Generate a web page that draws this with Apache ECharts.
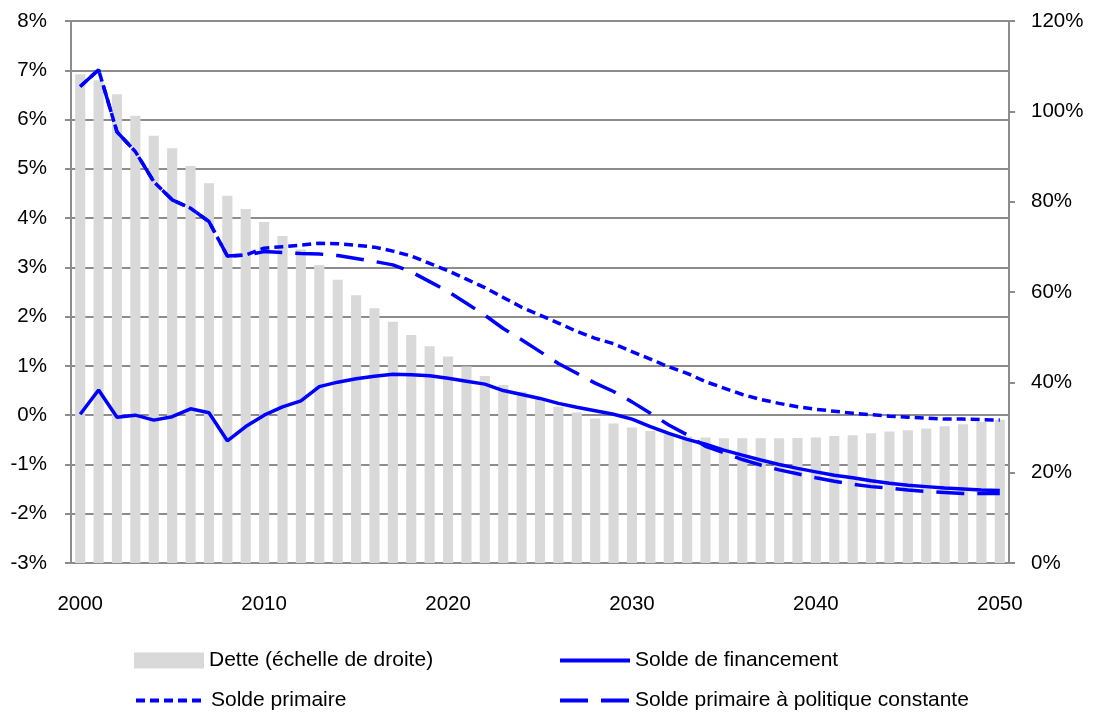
<!DOCTYPE html>
<html>
<head>
<meta charset="utf-8">
<script src="https://cdn.jsdelivr.net/npm/echarts@6/dist/echarts.min.js"></script>
<style>
html,body{margin:0;padding:0;background:#fff;}
#chart{width:1093px;height:715px;}
</style>
</head>
<body>
<div id="chart"></div>
<script>
const years = ['2000','2001','2002','2003','2004','2005','2006','2007','2008','2009',
 '2010','2011','2012','2013','2014','2015','2016','2017','2018','2019',
 '2020','2021','2022','2023','2024','2025','2026','2027','2028','2029',
 '2030','2031','2032','2033','2034','2035','2036','2037','2038','2039',
 '2040','2041','2042','2043','2044','2045','2046','2047','2048','2049','2050'];

// Dette (échelle de droite), % du PIB
const dette = [108.2,106.9,103.8,99.0,94.6,91.8,87.9,84.1,81.3,78.4,
 75.5,72.4,69.4,66.0,62.7,59.3,56.4,53.4,50.5,48.0,
 45.7,43.5,41.4,39.4,37.9,36.5,34.6,33.3,32.0,30.9,
 30.0,29.2,28.5,28.0,27.8,27.6,27.6,27.6,27.6,27.7,
 27.8,28.1,28.3,28.7,29.1,29.4,29.8,30.3,30.7,31.2,31.7];

// Solde de financement
const soldeFinancement = [0.02,0.51,-0.04,0.00,-0.10,-0.03,0.13,0.05,-0.52,-0.23,
 0.00,0.17,0.29,0.58,0.67,0.74,0.79,0.83,0.82,0.80,
 0.75,0.69,0.63,0.50,0.42,0.34,0.24,0.16,0.09,0.02,
 -0.08,-0.23,-0.37,-0.49,-0.59,-0.71,-0.81,-0.91,-1.00,-1.08,
 -1.15,-1.22,-1.27,-1.33,-1.38,-1.42,-1.45,-1.48,-1.50,-1.52,-1.53];

// Solde primaire
const soldePrimaire = [6.67,7.01,5.75,5.35,4.74,4.37,4.20,3.93,3.23,3.25,
 3.39,3.42,3.45,3.49,3.48,3.45,3.41,3.33,3.23,3.08,
 2.93,2.76,2.59,2.39,2.19,2.03,1.87,1.70,1.56,1.45,
 1.29,1.14,0.98,0.85,0.68,0.55,0.42,0.32,0.24,0.17,
 0.12,0.08,0.04,0.01,-0.02,-0.04,-0.06,-0.08,-0.08,-0.09,-0.10];

// Solde primaire à politique constante
const soldePolitiqueConstante = [6.67,7.01,5.75,5.35,4.74,4.37,4.20,3.93,3.23,3.25,
 3.32,3.30,3.28,3.27,3.24,3.18,3.12,3.05,2.91,2.71,
 2.51,2.27,2.03,1.76,1.53,1.29,1.05,0.85,0.65,0.48,
 0.27,0.04,-0.20,-0.40,-0.63,-0.76,-0.90,-1.01,-1.11,-1.19,
 -1.27,-1.34,-1.40,-1.45,-1.48,-1.52,-1.55,-1.57,-1.59,-1.59,-1.59];

const FONT = '"Liberation Sans", Arial, sans-serif';
const GRID_COLOR = '#8c8c8c';
const BLUE = '#0000ff';
const AXIS_FS = 20.5;
const LEG_FS = 21;

function legendAt(name, left, top, extra) {
  return Object.assign({
    orient: 'horizontal', left: left, top: top,
    itemWidth: 70, itemHeight: 16, padding: 0,
    selectedMode: false,
    textStyle: {fontFamily: FONT, fontSize: LEG_FS, color: '#000'},
    itemStyle: {opacity: 0},
    lineStyle: {width: 4},
    data: [name]
  }, extra || {});
}

const chart = echarts.init(document.getElementById('chart'), null, {renderer: 'canvas'});
chart.setOption({
  animation: false,
  backgroundColor: '#ffffff',
  textStyle: {fontFamily: FONT},
  grid: {left: 71, right: 84, top: 21, bottom: 152, containLabel: false},
  legend: [
    legendAt('Dette (échelle de droite)', 134, 650, {
      itemStyle: {opacity: 1},
      data: [{name: 'Dette (échelle de droite)', icon: 'rect'}]
    }),
    legendAt('Solde primaire', 134, 690),
    legendAt('Solde de financement', 558, 650),
    legendAt('Solde primaire à politique constante', 558, 690)
  ],
  xAxis: {
    type: 'category',
    data: years,
    boundaryGap: true,
    axisLine: {show: true, onZero: false, lineStyle: {color: GRID_COLOR, width: 2}},
    axisTick: {show: false},
    axisLabel: {
      interval: function (i) { return i % 10 === 0; },
      margin: 31, fontSize: AXIS_FS, color: '#000', fontFamily: FONT
    },
    splitLine: {show: false}
  },
  yAxis: [
    {
      type: 'value', min: -3, max: 8, interval: 1, position: 'left',
      axisLine: {show: true, lineStyle: {color: GRID_COLOR, width: 2}},
      axisTick: {show: true, inside: false, length: 6, lineStyle: {color: GRID_COLOR, width: 2}},
      axisLabel: {formatter: '{value}%', margin: 24, fontSize: AXIS_FS, color: '#000', fontFamily: FONT},
      splitLine: {show: true, lineStyle: {color: GRID_COLOR, width: 2}}
    },
    {
      type: 'value', min: 0, max: 120, interval: 20, position: 'right',
      axisLine: {show: true, lineStyle: {color: GRID_COLOR, width: 2}},
      axisTick: {show: true, inside: false, length: 6, lineStyle: {color: GRID_COLOR, width: 2}},
      axisLabel: {formatter: '{value}%', margin: 22, fontSize: AXIS_FS, color: '#000', fontFamily: FONT},
      splitLine: {show: false}
    }
  ],
  series: [
    {
      name: 'Dette (échelle de droite)', type: 'bar', yAxisIndex: 1,
      data: dette, barCategoryGap: '45%',
      itemStyle: {color: '#d9d9d9'}
    },
    {
      name: 'Solde de financement', type: 'line', yAxisIndex: 0,
      data: soldeFinancement, symbol: 'none',
      itemStyle: {color: BLUE},
      lineStyle: {color: BLUE, width: 3.5, type: 'solid'}
    },
    {
      name: 'Solde primaire', type: 'line', yAxisIndex: 0,
      data: soldePrimaire, symbol: 'none',
      itemStyle: {color: BLUE},
      lineStyle: {color: BLUE, width: 3.5, type: [9, 5]}
    },
    {
      name: 'Solde primaire à politique constante', type: 'line', yAxisIndex: 0,
      data: soldePolitiqueConstante, symbol: 'none',
      itemStyle: {color: BLUE},
      lineStyle: {color: BLUE, width: 3.5, type: [28, 13]}
    }
  ]
});
</script>
</body>
</html>
